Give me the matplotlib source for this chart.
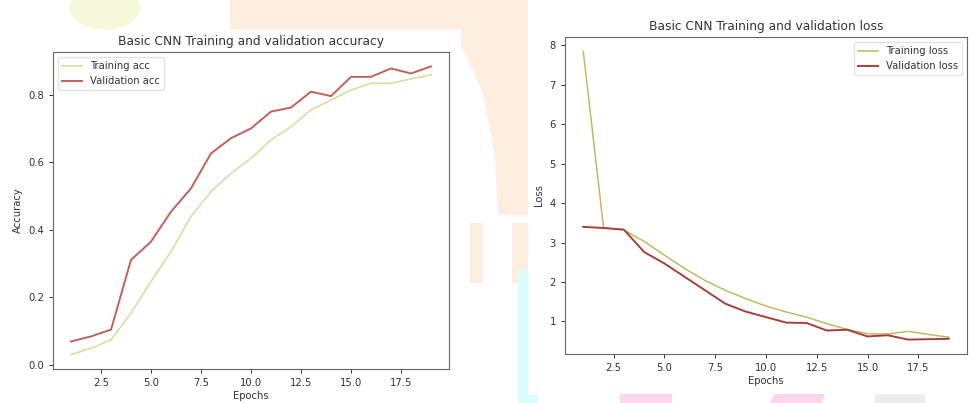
import matplotlib
matplotlib.use("Agg")
import matplotlib.pyplot as plt
from matplotlib.patches import Rectangle, Ellipse, Polygon

epochs = list(range(1, 20))
train_acc = [0.030, 0.049, 0.074, 0.153, 0.247, 0.336, 0.440, 0.514, 0.568, 0.612,
             0.667, 0.706, 0.756, 0.785, 0.815, 0.835, 0.835, 0.848, 0.860]
val_acc = [0.069, 0.084, 0.104, 0.311, 0.365, 0.454, 0.523, 0.627, 0.672, 0.701,
           0.751, 0.763, 0.810, 0.797, 0.854, 0.854, 0.879, 0.864, 0.885]
train_loss = [7.85, 3.38, 3.32, 3.03, 2.68, 2.34, 2.04, 1.79, 1.58, 1.39,
              1.24, 1.11, 0.94, 0.80, 0.69, 0.68, 0.75, 0.67, 0.60]
val_loss = [3.40, 3.37, 3.33, 2.76, 2.47, 2.13, 1.79, 1.45, 1.25, 1.11,
            0.97, 0.96, 0.77, 0.79, 0.62, 0.65, 0.54, 0.55, 0.56]

W, H = 970, 403
fig = plt.figure(figsize=(W / 100, H / 100), dpi=100)
fig.patch.set_facecolor("white")

# faint watermark-like background behind the two chart images
bg = fig.add_axes([0, 0, 1, 1])
bg.set_xlim(0, W)
bg.set_ylim(H, 0)
bg.axis("off")
peach = "#fdeee0"
bg.add_patch(Polygon([(230, 0), (528, 0), (528, 215), (498, 215), (494, 150),
                      (482, 90), (461, 45), (461, 30), (230, 30)],
                     closed=True, color=peach, lw=0, zorder=0))
bg.add_patch(Ellipse((105, 8), 70, 44, color="#f7f9dc", lw=0, zorder=0))
bg.add_patch(Rectangle((470, 223), 13, 60, color=peach, lw=0, zorder=0))
bg.add_patch(Rectangle((512, 223), 16, 60, color=peach, lw=0, zorder=0))
bg.add_patch(Rectangle((518, 270), 20, 133, color="#dcfcfd", lw=0, zorder=0))
bg.add_patch(Polygon([(620, 394), (672, 394), (672, 403), (620, 403)], color="#fcd6ea", lw=0, zorder=0))
bg.add_patch(Polygon([(774, 394), (825, 394), (822, 403), (770, 403)], color="#fcd6ea", lw=0, zorder=0))
bg.add_patch(Rectangle((875, 394), 50, 9, color="#ececec", lw=0, zorder=0))
# white chart image boxes
bg.add_patch(Rectangle((0, 30), 461, 373, color="white", lw=0, zorder=1))
bg.add_patch(Rectangle((528, 9), 442, 385, color="white", lw=0, zorder=1))


def px_axes(x0, y0, x1, y1):
    return fig.add_axes([x0 / W, 1 - y1 / H, (x1 - x0) / W, (y1 - y0) / H])


txt = "#333333"
spine_c = "#666666"
fs_tick = 7.2

ax1 = px_axes(53, 52, 449, 369)
ax1.plot(epochs, train_acc, color="#d8dea2", lw=1.2, label="Training acc")
ax1.plot(epochs, val_acc, color="#c2615a", lw=1.4, label="Validation acc")
ax1.set_title("Basic CNN Training and validation accuracy", fontsize=8.8, color=txt, pad=5)
ax1.set_xlabel("Epochs", fontsize=fs_tick, color=txt, labelpad=2)
ax1.set_ylabel("Accuracy", fontsize=fs_tick, color=txt, labelpad=4)
ax1.legend(loc="upper left", fontsize=fs_tick, frameon=True, edgecolor="#dddddd",
           labelcolor=txt, handlelength=2.0)

ax2 = px_axes(565, 37, 967, 354)
ax2.plot(epochs, train_loss, color="#c4b862", lw=1.1, label="Training loss")
ax2.plot(epochs, val_loss, color="#a8403a", lw=1.4, label="Validation loss")
ax2.set_title("Basic CNN Training and validation loss", fontsize=8.8, color=txt, pad=5)
ax2.set_xlabel("Epochs", fontsize=fs_tick, color=txt, labelpad=2)
ax2.set_ylabel("Loss", fontsize=fs_tick, color=txt, labelpad=4)
ax2.legend(loc="upper right", fontsize=fs_tick, frameon=True, edgecolor="#dddddd",
           labelcolor=txt, handlelength=2.0)

for ax in (ax1, ax2):
    ax.set_facecolor("white")
    ax.tick_params(labelsize=fs_tick, colors=txt, length=3, width=0.7)
    for s in ax.spines.values():
        s.set_color(spine_c)
        s.set_linewidth(0.8)

fig.savefig("out.png", dpi=100)
